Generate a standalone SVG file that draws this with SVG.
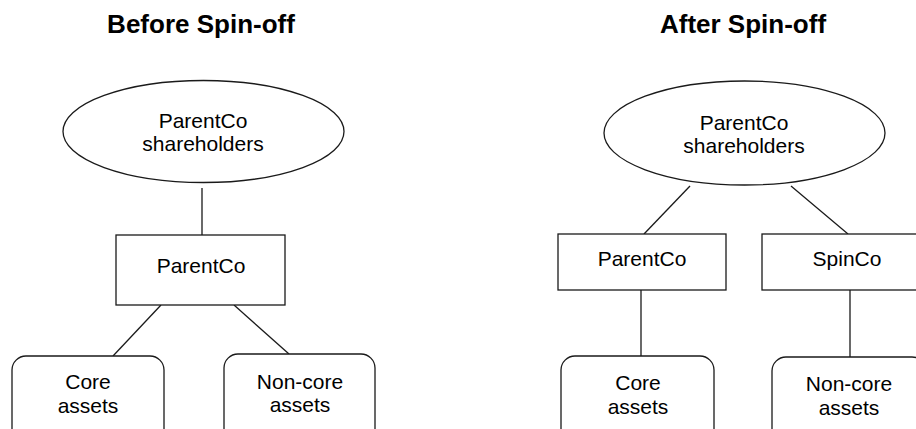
<svg xmlns="http://www.w3.org/2000/svg" width="916" height="429" viewBox="0 0 916 429">
<style>
.s{fill:#fff;stroke:#1a1a1a;stroke-width:1.3}
.t{font-family:"Liberation Sans",Arial,sans-serif;font-size:21px;fill:#000;text-anchor:middle}
.h{font-family:"Liberation Sans",Arial,sans-serif;font-size:26px;font-weight:bold;fill:#000;text-anchor:middle}
.c line{stroke:#1a1a1a;stroke-width:1.3}
</style>
<rect width="916" height="429" fill="#fff"/>
<text class="h" x="201" y="33">Before Spin-off</text>
<text class="h" x="743" y="33">After Spin-off</text>
<g class="c" id="connectors">
<line x1="202" y1="188" x2="202" y2="235"/>
<line x1="161" y1="305" x2="113" y2="356"/>
<line x1="234" y1="305" x2="289" y2="354"/>
<line x1="690" y1="186" x2="644" y2="234"/>
<line x1="791" y1="186" x2="848" y2="234"/>
<line x1="641" y1="290" x2="641" y2="356"/>
<line x1="850" y1="290" x2="850" y2="357"/>
</g>
<g id="l-shareholders"><ellipse class="s" cx="203.5" cy="131.5" rx="140.5" ry="51"/><text class="t" x="203" y="128">ParentCo</text><text class="t" x="203" y="151">shareholders</text></g>
<g id="l-parentco"><rect class="s" x="116" y="235" width="169" height="70"/><text class="t" x="201" y="273">ParentCo</text></g>
<g id="l-core"><rect class="s" x="12" y="356" width="152" height="100" rx="14"/><text class="t" x="88" y="389">Core</text><text class="t" x="88" y="413">assets</text></g>
<g id="l-noncore"><rect class="s" x="224" y="354" width="151" height="100" rx="14"/><text class="t" x="300" y="389">Non-core</text><text class="t" x="300" y="412">assets</text></g>
<g id="r-shareholders"><ellipse class="s" cx="744.5" cy="133" rx="140.5" ry="52"/><text class="t" x="744" y="130">ParentCo</text><text class="t" x="744" y="153">shareholders</text></g>
<g id="r-parentco"><rect class="s" x="558" y="234" width="168" height="56"/><text class="t" x="642" y="266">ParentCo</text></g>
<g id="r-spinco"><rect class="s" x="762" y="234" width="170" height="56"/><text class="t" x="847" y="266">SpinCo</text></g>
<g id="r-core"><rect class="s" x="561" y="356" width="153" height="100" rx="14"/><text class="t" x="638" y="390">Core</text><text class="t" x="638" y="414">assets</text></g>
<g id="r-noncore"><rect class="s" x="772" y="357" width="154" height="100" rx="14"/><text class="t" x="849" y="391">Non-core</text><text class="t" x="849" y="415">assets</text></g>
</svg>
